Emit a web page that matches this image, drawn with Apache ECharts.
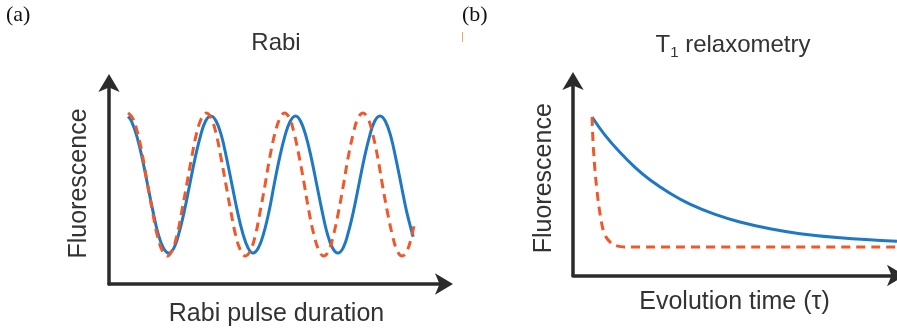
<!DOCTYPE html>
<html>
<head>
<meta charset="utf-8">
<script src="https://cdn.jsdelivr.net/npm/echarts@6/dist/echarts.min.js"></script>
<style>
  html, body { margin: 0; padding: 0; background: #fff; }
  #chart { width: 897px; height: 335px; }
</style>
</head>
<body>
<div id="chart"></div>
<script>
// (a) Rabi: pulse duration vs. fluorescence, arbitrary units (0-100 on both axes)
const rabiTimeSolid = [5.7, 6.7, 8.3, 9.9, 11.5, 13.1, 14.6, 16.2, 17.8, 19.4, 20.9, 22.5, 24.1, 25.7,
  27.3, 28.8, 30.4, 32.0, 33.6, 35.1, 36.7, 38.3, 39.9, 41.5, 43.0, 44.6, 46.2, 47.8, 49.3, 50.9,
  52.5, 54.1, 55.7, 57.2, 58.8, 60.4, 62.0, 63.6, 65.1, 66.7, 68.3, 69.9, 71.4, 73.0, 74.6, 76.2,
  77.8, 79.3, 80.9, 82.5, 84.1, 85.6, 87.2, 88.8, 90.8];
const rabiFluorSolid = [83.3, 81.0, 73.6, 62.6, 49.5, 36.4, 25.4, 18.0, 15.4, 18.0, 25.4, 36.4, 49.5, 62.6,
  73.6, 81.0, 83.6, 81.0, 73.6, 62.6, 49.5, 36.4, 25.4, 18.0, 15.4, 18.0, 25.4, 36.4, 49.5, 62.6,
  73.6, 81.0, 83.6, 81.0, 73.6, 62.6, 49.5, 36.4, 25.4, 18.0, 15.4, 18.0, 25.4, 36.4, 49.5, 62.6,
  73.6, 81.0, 83.6, 81.0, 73.6, 62.6, 49.5, 36.4, 23.5];

const rabiTimeDashed = [5.7, 7.1, 8.6, 10.1, 11.5, 13.0, 14.4, 15.9, 17.4, 18.8, 20.3, 21.7, 23.2, 24.7,
  26.1, 27.6, 29.1, 30.5, 32.0, 33.4, 34.9, 36.4, 37.8, 39.3, 40.7, 42.2, 43.7, 45.1, 46.6, 48.0,
  49.5, 51.0, 52.4, 53.9, 55.3, 56.8, 58.3, 59.7, 61.2, 62.7, 64.1, 65.6, 67.0, 68.5, 70.0, 71.4,
  72.9, 74.3, 75.8, 77.3, 78.7, 80.2, 81.6, 83.1, 84.6, 86.0, 87.5, 89.0, 90.4, 91.3];
const rabiFluorDashed = [85.1, 82.4, 74.7, 63.1, 49.5, 35.9, 24.3, 16.6, 13.9, 16.6, 24.3, 35.9, 49.5, 63.1,
  74.7, 82.4, 85.1, 82.4, 74.7, 63.1, 49.5, 35.9, 24.3, 16.6, 13.9, 16.6, 24.3, 35.9, 49.5, 63.1,
  74.7, 82.4, 85.1, 82.4, 74.7, 63.1, 49.5, 35.9, 24.3, 16.6, 13.9, 16.6, 24.3, 35.9, 49.5, 63.1,
  74.7, 82.4, 85.1, 82.4, 74.7, 63.1, 49.5, 35.9, 24.3, 16.6, 13.9, 16.6, 24.3, 31.0];

// (b) T1 relaxometry: evolution time vs. fluorescence, arbitrary units
const t1TimeSolid = [5.9, 9.9, 14.6, 19.2, 23.8, 30.0, 36.2, 44.0, 51.7, 61.0, 70.3, 82.7, 100.3];
const t1FluorSolid = [81.5, 72.2, 63.2, 55.6, 49.2, 42.3, 36.7, 31.4, 27.5, 24.0, 21.5, 19.4, 17.6];

const t1TimeDashed = [5.9, 6.35, 7.4, 8.8, 9.9, 11.5, 13.6, 16.1, 100];
const t1FluorDashed = [81.5, 64.5, 44.0, 27.5, 20.8, 17.2, 15.2, 14.7, 14.7];

const panelTitles = ['Rabi', '{t|T}{s|1}{t| relaxometry}'];
const xNames = ['Rabi pulse duration', 'Evolution time (\u03c4)'];
const yName = 'Fluorescence';

const BLUE = '#1f78c4';
const RED = '#f0582a';
const AXIS = '#2b2b2b';
const TEXT = '#333333';
const SANS = '"Liberation Sans", Arial, Helvetica, sans-serif';

const pairs = (xs, ys) => xs.map((x, i) => [x, ys[i]]);

function valueAxis(gridIndex, name, nameGap) {
  return {
    type: 'value',
    gridIndex,
    min: 0,
    max: 100,
    name,
    nameLocation: 'middle',
    nameGap,
    nameTextStyle: { fontFamily: SANS, fontSize: 25, color: TEXT },
    axisLine: {
      show: true,
      symbol: ['none', 'arrow'],
      symbolSize: [16, 18],
      symbolOffset: [0, 9],
      lineStyle: { color: AXIS, width: 3.5 }
    },
    axisTick: { show: false },
    axisLabel: { show: false },
    splitLine: { show: false }
  };
}

function curve(xAxisIndex, xs, ys, color, dashed) {
  return {
    type: 'line',
    xAxisIndex,
    yAxisIndex: xAxisIndex,
    data: pairs(xs, ys),
    showSymbol: false,
    symbol: 'none',
    smooth: 0.4,
    lineStyle: { color, width: 3, type: dashed ? [9, 6] : 'solid', cap: 'butt' },
    z: dashed ? 3 : 2,
    animation: false
  };
}

const chart = echarts.init(document.getElementById('chart'), null, { renderer: 'canvas' });

chart.setOption({
  backgroundColor: '#ffffff',
  animation: false,
  grid: [
    { left: 109, right: 453, top: 83, bottom: 51 },
    { left: 573, right: 1, top: 81, bottom: 59.5 }
  ],
  xAxis: [valueAxis(0, xNames[0], 18), valueAxis(1, xNames[1], 14)],
  yAxis: [valueAxis(0, yName, 17), valueAxis(1, yName, 16)],
  series: [
    curve(0, rabiTimeSolid, rabiFluorSolid, BLUE, false),
    curve(0, rabiTimeDashed, rabiFluorDashed, RED, true),
    curve(1, t1TimeSolid, t1FluorSolid, BLUE, false),
    curve(1, t1TimeDashed, t1FluorDashed, RED, true)
  ],
  graphic: [
    { type: 'text', x: 6, y: 4, style: { text: '(a)', fontFamily: '"Liberation Serif", "DejaVu Serif", serif', fontSize: 22, fill: '#111' } },
    { type: 'text', x: 462, y: 4, style: { text: '(b)', fontFamily: '"Liberation Serif", "DejaVu Serif", serif', fontSize: 22, fill: '#111' } },
    { type: 'line', shape: { x1: 462.5, y1: 32, x2: 462.5, y2: 42 }, style: { stroke: '#f3a65f', lineWidth: 1 } },
    { type: 'text', x: 276, y: 43, style: { text: panelTitles[0], align: 'center', verticalAlign: 'middle', fontFamily: SANS, fontSize: 24, fill: TEXT } },
    { type: 'text', x: 733, y: 45, style: {
        text: panelTitles[1], align: 'center', verticalAlign: 'middle',
        rich: {
          t: { fontFamily: SANS, fontSize: 24, fill: TEXT, lineHeight: 30 },
          s: { fontFamily: SANS, fontSize: 15, fill: TEXT, lineHeight: 14, verticalAlign: 'bottom' }
        }
      } }
  ]
});
</script>
</body>
</html>
